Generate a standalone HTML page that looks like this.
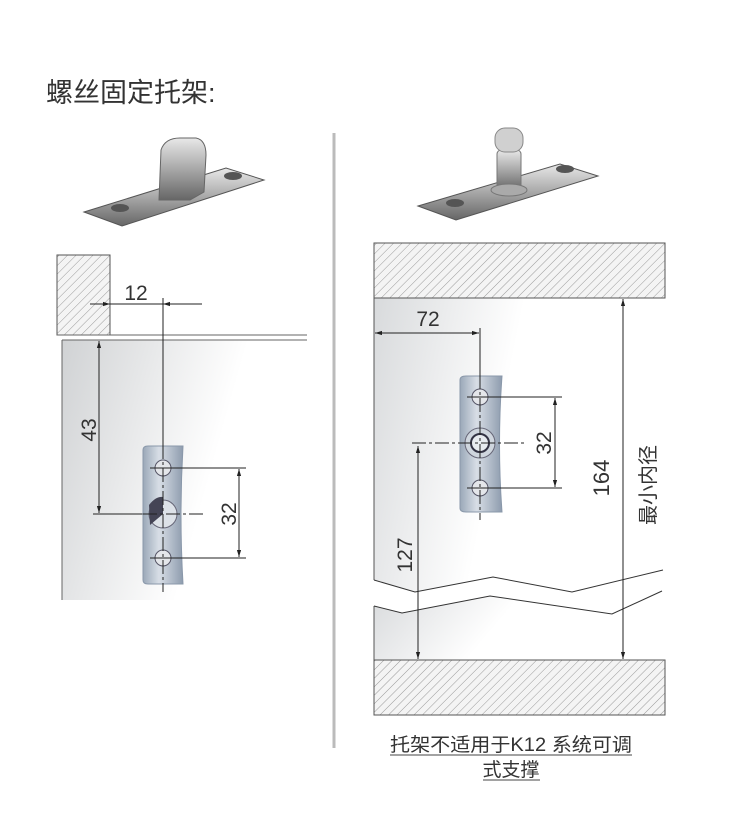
<!DOCTYPE html>
<html><head><meta charset="utf-8"><style>
html,body{margin:0;padding:0;background:#fff;width:730px;height:820px;overflow:hidden}
svg{display:block}
text{font-family:"Liberation Sans","Noto Sans CJK SC",sans-serif}
</style></head><body>
<svg width="730" height="820" viewBox="0 0 730 820" xmlns="http://www.w3.org/2000/svg">
<defs>
<pattern id="h" width="6" height="6" patternUnits="userSpaceOnUse" patternTransform="rotate(45)">
<rect width="6" height="6" fill="#f4f4f4"/><line x1="0" y1="0" x2="0" y2="6" stroke="#9a9a9a" stroke-width="1"/>
</pattern>
<linearGradient id="gl" x1="0" y1="0" x2="1" y2="0.3">
<stop offset="0" stop-color="#d0d2d4"/><stop offset="0.7" stop-color="#fff"/></linearGradient>
<linearGradient id="gr" x1="0" y1="0" x2="1" y2="0.2">
<stop offset="0" stop-color="#d8dadc"/><stop offset="0.5" stop-color="#fff"/></linearGradient>
<linearGradient id="br" x1="0" y1="0" x2="1" y2="0">
<stop offset="0" stop-color="#9aa8b8"/><stop offset="0.4" stop-color="#d8dee6"/><stop offset="1" stop-color="#8e9cae"/></linearGradient>
<linearGradient id="mt" x1="0" y1="0" x2="0" y2="1">
<stop offset="0" stop-color="#e8e8e8"/><stop offset="0.5" stop-color="#a8a8a8"/><stop offset="1" stop-color="#666"/></linearGradient>
<marker id="a" viewBox="0 0 10 10" refX="10" refY="5" markerWidth="7" markerHeight="7" orient="auto-start-reverse"><path d="M0,2 L10,5 L0,8 z" fill="#222"/></marker>
</defs>

<text x="46" y="102" font-size="27" fill="#333">螺丝固定托架:</text>
<line x1="334" y1="133" x2="334" y2="748" stroke="#bbb" stroke-width="3"/>

<!-- product images -->
<polygon points="84,212 226,168 264,180 122,226" fill="url(#mt)" stroke="#555" stroke-width="1"/>
<ellipse cx="120" cy="208" rx="9" ry="4" fill="#555"/><ellipse cx="233" cy="176" rx="9" ry="4" fill="#555"/>
<path d="M159,200 L161,150 Q165,138 180,138 L196,138 Q206,140 206,155 L204,192 L190,200 Z" fill="url(#mt)" stroke="#666"/>
<polygon points="418,206 560,164 598,176 456,220" fill="url(#mt)" stroke="#555"/>
<ellipse cx="455" cy="203" rx="9" ry="4" fill="#555"/><ellipse cx="565" cy="169" rx="9" ry="4" fill="#555"/>
<rect x="497" y="150" width="24" height="40" rx="4" fill="url(#mt)" stroke="#777"/>
<rect x="495" y="128" width="28" height="24" rx="10" fill="#d0d0d0" stroke="#888"/>
<ellipse cx="509" cy="190" rx="18" ry="6" fill="#aaa" stroke="#777"/>

<!-- LEFT DIAGRAM -->
<rect x="62" y="340" width="245" height="260" fill="url(#gl)"/>
<rect x="57" y="255" width="53" height="80" fill="url(#h)" stroke="#555"/>
<line x1="57" y1="335" x2="307" y2="335" stroke="#666"/>
<line x1="62" y1="340" x2="307" y2="340" stroke="#666"/>
<line x1="62" y1="340" x2="62" y2="600" stroke="#666"/>
<line x1="90" y1="304" x2="110" y2="304" stroke="#222" marker-end="url(#a)"/>
<line x1="110" y1="304" x2="202" y2="304" stroke="#222"/>
<line x1="185" y1="304" x2="163" y2="304" stroke="#222" marker-end="url(#a)"/>
<text x="136" y="300" font-size="21" fill="#333" text-anchor="middle">12</text>
<line x1="163" y1="298" x2="163" y2="445" stroke="#222"/>
<line x1="99" y1="341" x2="99" y2="513" stroke="#222" marker-start="url(#a)" marker-end="url(#a)"/>
<text transform="translate(96,430) rotate(-90)" font-size="21" fill="#333" text-anchor="middle">43</text>
<line x1="93" y1="514" x2="143" y2="514" stroke="#222"/>
<path d="M143,450 Q143,446 148,446 L183,446 Q179,515 183,584 L148,584 Q143,584 143,580 Z" fill="url(#br)" stroke="#8a98aa"/>
<circle cx="163" cy="468" r="8" fill="#e4e6ea" stroke="#556"/>
<circle cx="163" cy="558" r="8" fill="#e4e6ea" stroke="#556"/>
<circle cx="163" cy="514" r="14" fill="#dde2e8" stroke="#667"/>
<path d="M149,505 Q156,496 163,497 L163,514 L150,525 Z" fill="#445"/>
<line x1="163" y1="445" x2="163" y2="592" stroke="#222" stroke-dasharray="14,3,3,3"/>
<line x1="143" y1="514" x2="205" y2="514" stroke="#222" stroke-dasharray="14,3,3,3"/>
<line x1="150" y1="468" x2="246" y2="468" stroke="#222"/>
<line x1="150" y1="558" x2="246" y2="558" stroke="#222"/>
<line x1="239" y1="469" x2="239" y2="557" stroke="#222" marker-start="url(#a)" marker-end="url(#a)"/>
<text transform="translate(236,514) rotate(-90)" font-size="21" fill="#333" text-anchor="middle">32</text>

<!-- RIGHT DIAGRAM -->
<polygon points="374,298 665,298 663,570 572,592 493,577 415,592 374,580" fill="url(#gr)"/>
<polygon points="374,606 402,613 490,596 612,614 662,591 665,660 374,660" fill="url(#gr)"/>
<rect x="374" y="243" width="291" height="55" fill="url(#h)" stroke="#555"/>
<rect x="374" y="660" width="291" height="55" fill="url(#h)" stroke="#555"/>
<line x1="374" y1="298" x2="374" y2="580" stroke="#555"/>
<line x1="374" y1="606" x2="374" y2="660" stroke="#555"/>
<polyline points="374,580 415,592 493,577 572,592 663,570" fill="none" stroke="#333"/>
<polyline points="374,606 402,613 490,596 612,614 662,591" fill="none" stroke="#333"/>
<line x1="375" y1="333" x2="479" y2="333" stroke="#222" marker-start="url(#a)" marker-end="url(#a)"/>
<text x="428" y="326" font-size="21" fill="#333" text-anchor="middle">72</text>
<line x1="480" y1="328" x2="480" y2="375" stroke="#222"/>
<path d="M460,380 Q460,376 466,376 L502,376 Q497,444 502,512 L466,512 Q460,512 460,508 Z" fill="url(#br)" stroke="#8a98aa"/>
<circle cx="480" cy="397" r="8" fill="#e4e6ea" stroke="#556"/>
<circle cx="480" cy="488" r="8" fill="#e4e6ea" stroke="#556"/>
<circle cx="480" cy="443" r="15" fill="#cfd6de" stroke="#667"/>
<circle cx="480" cy="443" r="9" fill="#e8ecf0" stroke="#334" stroke-width="2"/>
<line x1="480" y1="375" x2="480" y2="520" stroke="#222" stroke-dasharray="14,3,3,3"/>
<line x1="412" y1="443" x2="525" y2="443" stroke="#222" stroke-dasharray="14,3,3,3"/>
<line x1="467" y1="397" x2="562" y2="397" stroke="#222"/>
<line x1="467" y1="488" x2="562" y2="488" stroke="#222"/>
<line x1="555" y1="398" x2="555" y2="487" stroke="#222" marker-start="url(#a)" marker-end="url(#a)"/>
<text transform="translate(551,443) rotate(-90)" font-size="21" fill="#333" text-anchor="middle">32</text>
<line x1="418" y1="446" x2="418" y2="659" stroke="#222" marker-start="url(#a)" marker-end="url(#a)"/>
<text transform="translate(412,555) rotate(-90)" font-size="21" fill="#333" text-anchor="middle">127</text>
<line x1="623" y1="299" x2="623" y2="659" stroke="#222" marker-start="url(#a)" marker-end="url(#a)"/>
<text transform="translate(609,478) rotate(-90)" font-size="22" fill="#333" text-anchor="middle">164</text>
<text transform="translate(655,485) rotate(-90)" font-size="20" fill="#333" text-anchor="middle">最小内径</text>

<!-- caption -->
<text x="511" y="751" font-size="19" fill="#333" text-anchor="middle" textLength="242" lengthAdjust="spacingAndGlyphs">托架不适用于K12 系统可调</text>
<text x="511" y="776" font-size="19" fill="#333" text-anchor="middle">式支撑</text>
<line x1="390" y1="755" x2="632" y2="755" stroke="#444"/>
<line x1="483" y1="780" x2="540" y2="780" stroke="#444"/>
</svg>
</body></html>
